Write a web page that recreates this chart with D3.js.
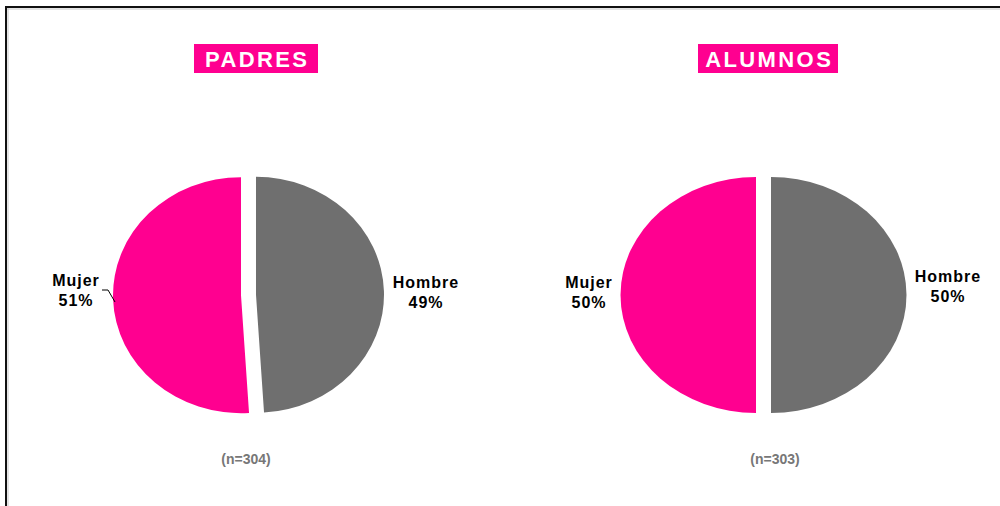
<!DOCTYPE html>
<html>
<head>
<meta charset="utf-8">
<script src="https://cdn.jsdelivr.net/npm/d3@7"></script>
<style>
  html, body { margin: 0; padding: 0; background: #fff; }
  svg { display: block; }
</style>
</head>
<body>
<svg id="chart" width="1000" height="506"></svg>
<script>
// Gender split of the two surveyed groups
const groups = ["PADRES", "ALUMNOS"];
const sampleSizes = [304, 303];
const categories = ["Hombre", "Mujer"];
const padresValues = [49, 51];
const alumnosValues = [50, 50];

const colors = { Hombre: "#6f6f6f", Mujer: "#ff0090" };

// Layout of each panel
const panels = [
  { name: groups[0], n: sampleSizes[0], values: padresValues,
    cx: 248.5, cy: 295, rx: 128, ry: 118,
    titleBox: [194, 44, 124, 29],
    labels: { Mujer: { x: 76, y: 286 }, Hombre: { x: 426, y: 288 } },
    leader: true, nX: 246 },
  { name: groups[1], n: sampleSizes[1], values: alumnosValues,
    cx: 763.5, cy: 295, rx: 135.5, ry: 118,
    titleBox: [698, 44, 140, 29],
    labels: { Mujer: { x: 589, y: 288 }, Hombre: { x: 948, y: 282 } },
    leader: false, nX: 775 }
];
const explode = 7.5;

const svg = d3.select("#chart");

// Frame
svg.append("line").attr("x1", 5).attr("x2", 1000).attr("y1", 9).attr("y2", 9)
  .attr("stroke", "#c8c8c8").attr("stroke-width", 1);
svg.append("line").attr("x1", 8).attr("x2", 8).attr("y1", 8).attr("y2", 506)
  .attr("stroke", "#c8c8c8").attr("stroke-width", 1);
svg.append("line").attr("x1", 5).attr("x2", 1000).attr("y1", 7).attr("y2", 7)
  .attr("stroke", "#111").attr("stroke-width", 2);
svg.append("line").attr("x1", 6).attr("x2", 6).attr("y1", 6).attr("y2", 506)
  .attr("stroke", "#111").attr("stroke-width", 2);

const pie = d3.pie().sort(null).value(d => d.value).startAngle(0).endAngle(2 * Math.PI);

panels.forEach(p => {
  const g = svg.append("g");

  // Title badge
  const [bx, by, bw, bh] = p.titleBox;
  g.append("rect").attr("x", bx).attr("y", by).attr("width", bw).attr("height", bh)
    .attr("fill", "#ff0090");
  g.append("text")
    .attr("x", bx + bw / 2 + 1.2).attr("y", by + bh / 2 + 8)
    .attr("text-anchor", "middle")
    .attr("font-family", "'Liberation Sans', Arial, sans-serif")
    .attr("font-weight", "bold").attr("font-size", 22)
    .attr("letter-spacing", "2.4px")
    .attr("fill", "#fff")
    .text(p.name);

  const data = categories.map((c, i) => ({ cat: c, value: p.values[i] }));
  const arcs = pie(data);
  const arc = d3.arc().innerRadius(0).outerRadius(p.ry);
  const sx = p.rx / p.ry;

  arcs.forEach(a => {
    const mid = (a.startAngle + a.endAngle) / 2;
    const ox = p.cx + explode * Math.sin(mid);
    const oy = p.cy - explode * Math.cos(mid);
    g.append("path")
      .attr("transform", `translate(${ox},${oy}) scale(${sx},1)`)
      .attr("d", arc(a))
      .attr("fill", colors[a.data.cat]);

    const lab = p.labels[a.data.cat];
    const t = g.append("text")
      .attr("text-anchor", "middle")
      .attr("font-family", "'Liberation Sans', Arial, sans-serif")
      .attr("font-weight", "bold").attr("font-size", 16)
      .attr("letter-spacing", "1px")
      .attr("fill", "#000");
    t.append("tspan").attr("x", lab.x).attr("y", lab.y).text(a.data.cat);
    t.append("tspan").attr("x", lab.x).attr("y", lab.y + 20).text(a.data.value + "%");
  });

  if (p.leader) {
    // Leader from the Mujer label to its slice edge
    const left = p.cx - explode - p.rx;
    g.append("path")
      .attr("d", d3.line()([[102, 290], [108, 290], [left + 2, 302]]))
      .attr("fill", "none").attr("stroke", "#000").attr("stroke-width", 1);
  }

  g.append("text")
    .attr("x", p.nX).attr("y", 464)
    .attr("text-anchor", "middle")
    .attr("font-family", "'Liberation Sans Narrow', 'Liberation Sans', Arial, sans-serif")
    .attr("font-weight", "bold").attr("font-size", 14)
    .attr("fill", "#777")
    .text(`(n=${p.n})`);
});
</script>
</body>
</html>
